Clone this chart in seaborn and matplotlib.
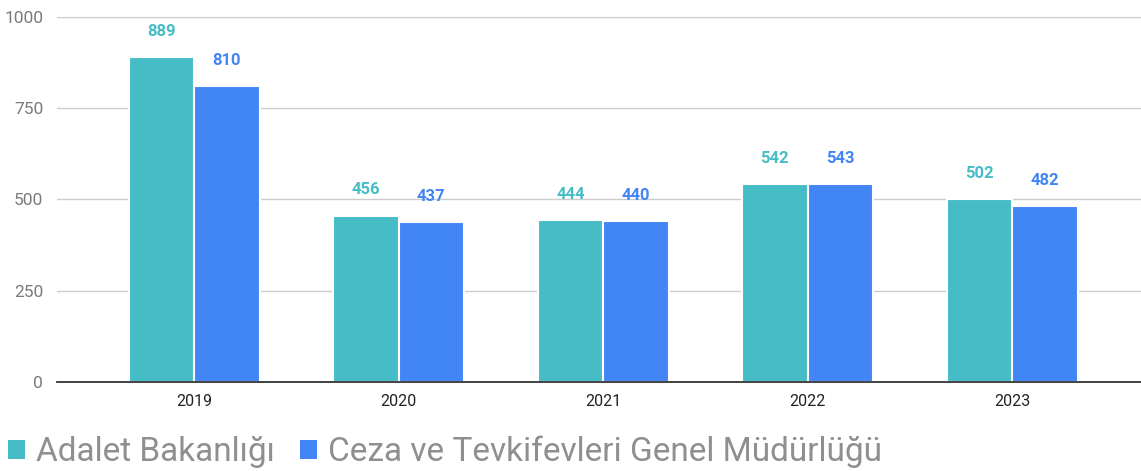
import matplotlib
matplotlib.use("Agg")
import matplotlib.pyplot as plt
import seaborn as sns
import pandas as pd
from matplotlib.patches import Patch

years = ["2019", "2020", "2021", "2022", "2023"]
series_names = ["Adalet Bakanlığı", "Ceza ve Tevkifevleri Genel Müdürlüğü"]
adalet = [889, 456, 444, 542, 502]
ceza = [810, 437, 440, 543, 482]
colors = ["#46BDC6", "#4285F4"]
yticks = [0, 250, 500, 750, 1000]

sns.set_theme(style="white")
plt.rcParams['font.family'] = ['Roboto', 'DejaVu Sans']

df = pd.DataFrame({
    "year": years * 2,
    "value": adalet + ceza,
    "series": [series_names[0]] * len(years) + [series_names[1]] * len(years),
})

fig = plt.figure(figsize=(11.41, 4.71), dpi=100)
ax = fig.add_axes([0.05, 0.189, 0.95, 0.775])
sns.barplot(data=df, x="year", y="value", hue="series", palette=colors,
            width=0.64, edgecolor="white", linewidth=1.5, ax=ax, legend=False,
            saturation=1)

for cont, col in zip(ax.containers, colors):
    ax.bar_label(cont, labels=[f"{int(v)}" for v in cont.datavalues],
                 padding=13, color=col, fontsize=12, fontweight="bold")

ax.set_ylim(0, 1000)
ax.set_xlim(-0.67, 4.63)
ax.set_yticks(yticks)
ax.set_yticklabels([str(t) for t in yticks], color="#7a7a7a", fontsize=12.5)
ax.tick_params(axis="x", colors="#222222", labelsize=11.5, length=0, pad=9)
ax.tick_params(axis="y", length=0, pad=10)
ax.yaxis.grid(True, color="#cccccc", linewidth=1)
ax.set_axisbelow(True)
for s in ["top", "right", "left"]:
    ax.spines[s].set_visible(False)
ax.spines["bottom"].set_color("#333333")
ax.spines["bottom"].set_linewidth(1.3)
ax.set_xlabel("")
ax.set_ylabel("")

handles = [Patch(facecolor=c, edgecolor="none") for c in colors]
fig.legend(handles, series_names, loc="lower left", bbox_to_anchor=(-0.019, -0.057),
           ncol=2, frameon=False, fontsize=24, labelcolor="#8f8f8f",
           handlelength=0.5, handleheight=0.5, handletextpad=0.33, columnspacing=0.75)

fig.savefig("out.png", dpi=100)
